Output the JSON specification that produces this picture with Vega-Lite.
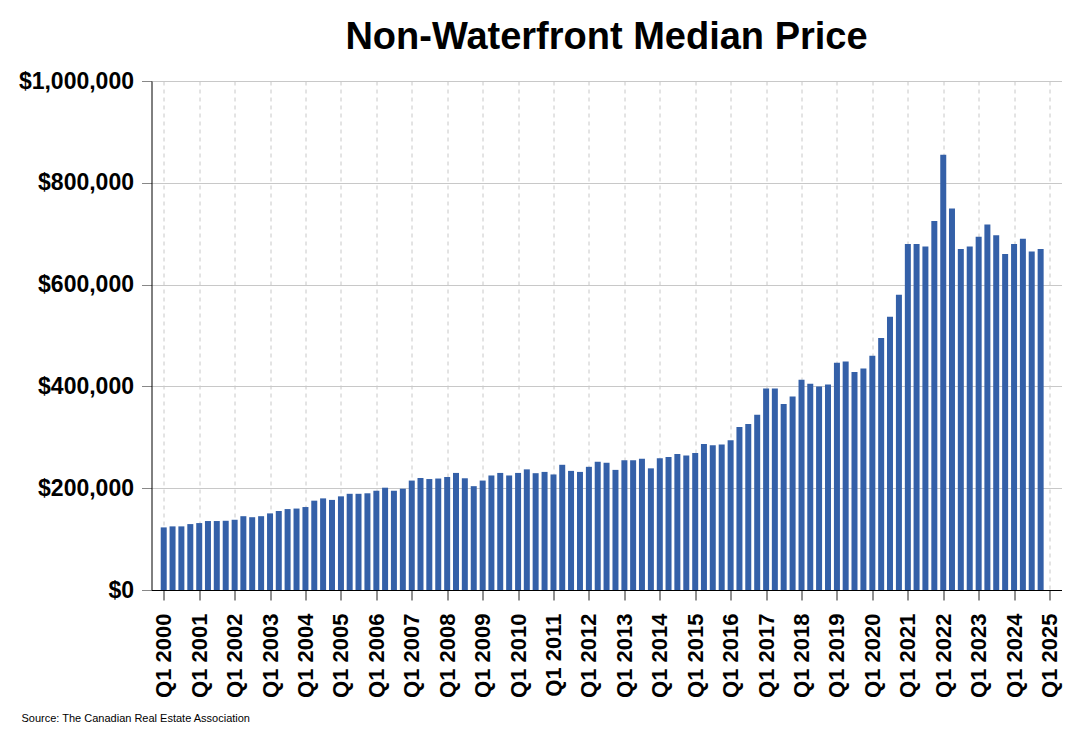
{
  "$schema": "https://vega.github.io/schema/vega-lite/v6.json",
  "width": 910,
  "height": 509,
  "autosize": {"type": "none"},
  "padding": {"left": 151.5, "top": 81, "right": 18.5, "bottom": 150},
  "background": "white",
  "title": {
    "text": "Non-Waterfront Median Price",
    "font": "Liberation Sans",
    "fontSize": 38,
    "fontWeight": "bold",
    "color": "black",
    "anchor": "middle",
    "frame": "group",
    "offset": 13
  },
  "data": {
    "values": [
      {"date": "2000-01-01", "price": 123000},
      {"date": "2000-04-01", "price": 125000},
      {"date": "2000-07-01", "price": 125000},
      {"date": "2000-10-01", "price": 129500},
      {"date": "2001-01-01", "price": 131500},
      {"date": "2001-04-01", "price": 135500},
      {"date": "2001-07-01", "price": 135500},
      {"date": "2001-10-01", "price": 136000},
      {"date": "2002-01-01", "price": 138000},
      {"date": "2002-04-01", "price": 145000},
      {"date": "2002-07-01", "price": 143000},
      {"date": "2002-10-01", "price": 145000},
      {"date": "2003-01-01", "price": 150500},
      {"date": "2003-04-01", "price": 155000},
      {"date": "2003-07-01", "price": 159000},
      {"date": "2003-10-01", "price": 160000},
      {"date": "2004-01-01", "price": 163000},
      {"date": "2004-04-01", "price": 175500},
      {"date": "2004-07-01", "price": 180000},
      {"date": "2004-10-01", "price": 177000},
      {"date": "2005-01-01", "price": 184000},
      {"date": "2005-04-01", "price": 189000},
      {"date": "2005-07-01", "price": 189000},
      {"date": "2005-10-01", "price": 190000},
      {"date": "2006-01-01", "price": 195000},
      {"date": "2006-04-01", "price": 201000},
      {"date": "2006-07-01", "price": 195000},
      {"date": "2006-10-01", "price": 199000},
      {"date": "2007-01-01", "price": 215000},
      {"date": "2007-04-01", "price": 220000},
      {"date": "2007-07-01", "price": 218000},
      {"date": "2007-10-01", "price": 219000},
      {"date": "2008-01-01", "price": 222000},
      {"date": "2008-04-01", "price": 230000},
      {"date": "2008-07-01", "price": 219500},
      {"date": "2008-10-01", "price": 204000},
      {"date": "2009-01-01", "price": 215000},
      {"date": "2009-04-01", "price": 225000},
      {"date": "2009-07-01", "price": 230000},
      {"date": "2009-10-01", "price": 225000},
      {"date": "2010-01-01", "price": 230000},
      {"date": "2010-04-01", "price": 237000},
      {"date": "2010-07-01", "price": 229500},
      {"date": "2010-10-01", "price": 232000},
      {"date": "2011-01-01", "price": 227000},
      {"date": "2011-04-01", "price": 246000},
      {"date": "2011-07-01", "price": 234000},
      {"date": "2011-10-01", "price": 232000},
      {"date": "2012-01-01", "price": 242000},
      {"date": "2012-04-01", "price": 252000},
      {"date": "2012-07-01", "price": 250000},
      {"date": "2012-10-01", "price": 236000},
      {"date": "2013-01-01", "price": 255000},
      {"date": "2013-04-01", "price": 255000},
      {"date": "2013-07-01", "price": 258000},
      {"date": "2013-10-01", "price": 239000},
      {"date": "2014-01-01", "price": 259000},
      {"date": "2014-04-01", "price": 261500},
      {"date": "2014-07-01", "price": 267000},
      {"date": "2014-10-01", "price": 264000},
      {"date": "2015-01-01", "price": 269000},
      {"date": "2015-04-01", "price": 287000},
      {"date": "2015-07-01", "price": 284500},
      {"date": "2015-10-01", "price": 286000},
      {"date": "2016-01-01", "price": 294000},
      {"date": "2016-04-01", "price": 320000},
      {"date": "2016-07-01", "price": 326000},
      {"date": "2016-10-01", "price": 344500},
      {"date": "2017-01-01", "price": 396000},
      {"date": "2017-04-01", "price": 396000},
      {"date": "2017-07-01", "price": 365500},
      {"date": "2017-10-01", "price": 380000},
      {"date": "2018-01-01", "price": 413000},
      {"date": "2018-04-01", "price": 405000},
      {"date": "2018-07-01", "price": 400000},
      {"date": "2018-10-01", "price": 403500},
      {"date": "2019-01-01", "price": 446500},
      {"date": "2019-04-01", "price": 449000},
      {"date": "2019-07-01", "price": 428500},
      {"date": "2019-10-01", "price": 435000},
      {"date": "2020-01-01", "price": 460000},
      {"date": "2020-04-01", "price": 495000},
      {"date": "2020-07-01", "price": 537000},
      {"date": "2020-10-01", "price": 580000},
      {"date": "2021-01-01", "price": 680000},
      {"date": "2021-04-01", "price": 680000},
      {"date": "2021-07-01", "price": 675000},
      {"date": "2021-10-01", "price": 725000},
      {"date": "2022-01-01", "price": 855000},
      {"date": "2022-04-01", "price": 749500},
      {"date": "2022-07-01", "price": 670000},
      {"date": "2022-10-01", "price": 675000},
      {"date": "2023-01-01", "price": 694000},
      {"date": "2023-04-01", "price": 718000},
      {"date": "2023-07-01", "price": 697000},
      {"date": "2023-10-01", "price": 660000},
      {"date": "2024-01-01", "price": 680000},
      {"date": "2024-04-01", "price": 690000},
      {"date": "2024-07-01", "price": 665000},
      {"date": "2024-10-01", "price": 670000}
    ]
  },
  "mark": {"type": "bar", "color": "#3460a8", "width": 6},
  "encoding": {
    "x": {
      "field": "date",
      "type": "temporal",
      "scale": {
        "type": "utc",
        "nice": false,
        "padding": 0,
        "domain": [
          {"year": 1999, "month": 8, "date": 28, "utc": true},
          {"year": 2025, "month": 5, "date": 4, "utc": true}
        ]
      },
      "axis": {
        "tickCount": {"interval": "year", "step": 1},
        "labelExpr": "'Q1 ' + utcFormat(datum.value, '%Y')",
        "labelAngle": -90,
        "labelFont": "Liberation Sans",
        "labelFontSize": 22,
        "labelFontWeight": "bold",
        "labelColor": "black",
        "labelPadding": 13,
        "labelOverlap": false,
        "labelFlush": false,
        "tickSize": 10,
        "tickColor": "#222",
        "domainColor": "black",
        "grid": true,
        "gridDash": [4, 4],
        "gridColor": "#c8c8c8",
        "title": "Source: The Canadian Real Estate Association",
        "titleFont": "Liberation Sans",
        "titleFontSize": 11,
        "titleFontWeight": "normal",
        "titleColor": "black",
        "titleAnchor": "start",
        "titleAlign": "left",
        "titleBaseline": "middle",
        "titleX": -130.5,
        "titleY": 128
      }
    },
    "y": {
      "field": "price",
      "type": "quantitative",
      "scale": {"domain": [0, 1000000], "nice": false},
      "axis": {
        "values": [0, 200000, 400000, 600000, 800000, 1000000],
        "format": "$,.0f",
        "title": null,
        "labelFont": "Liberation Sans",
        "labelFontSize": 23,
        "labelFontWeight": "bold",
        "labelColor": "black",
        "labelPadding": 8,
        "tickSize": 10,
        "tickColor": "#888",
        "domainColor": "black",
        "grid": true,
        "gridColor": "#c8c8c8"
      }
    }
  },
  "config": {
    "view": {"stroke": null},
    "font": "Liberation Sans"
  }
}
